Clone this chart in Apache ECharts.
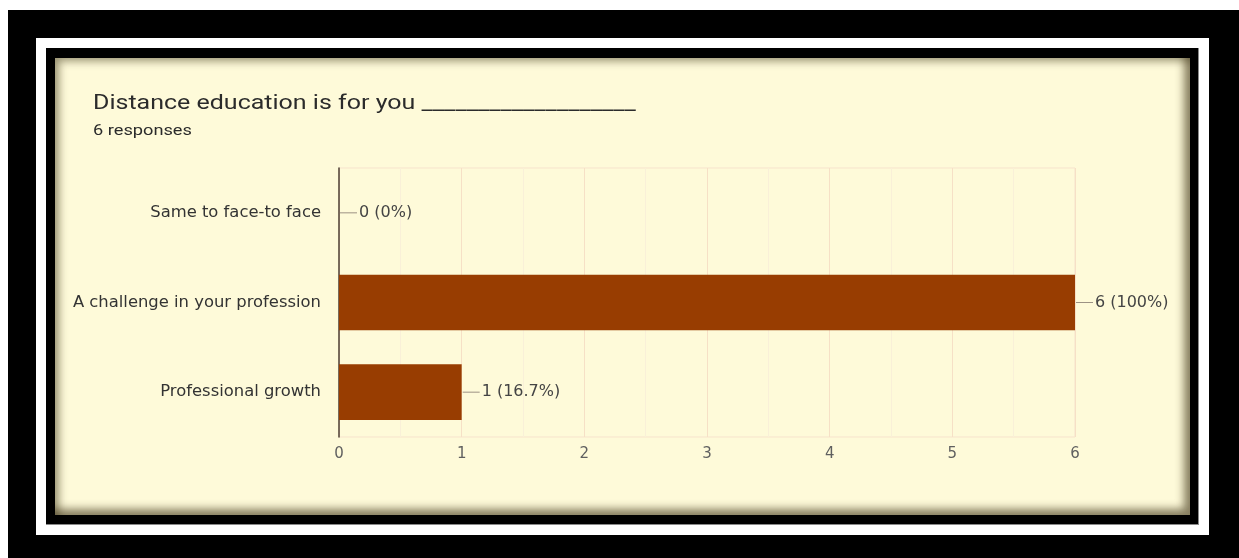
<!DOCTYPE html>
<html>
<head>
<meta charset="utf-8">
<script src="https://cdn.jsdelivr.net/npm/echarts@6/dist/echarts.min.js"></script>
<style>
  html, body { margin: 0; padding: 0; background: #ffffff; }
  body { width: 1239px; height: 558px; position: relative; overflow: hidden; }
  .frame { position: absolute; box-sizing: border-box; }
  #outer { left: 8px; top: 10px; width: 1231px; height: 548px; background: #000; }
  #band { left: 36px; top: 38px; width: 1173px; height: 497px; background: #fff; }
  #inner { left: 46px; top: 48px; width: 1153px; height: 477px; background: #000;
           border-right: 1px solid #8a8a8a; border-bottom: 1px solid #8a8a8a; }
  #paper { left: 55px; top: 58px; width: 1135px; height: 457px; background: #fefad9;
           box-shadow: inset -9px -9px 9px -3px rgba(70,60,30,0.65),
                       inset 7px 6px 8px -3px rgba(70,60,30,0.55); }
  #chart { position: absolute; left: 0; top: 0; width: 1239px; height: 558px; }
</style>
</head>
<body>
<div class="frame" id="outer"></div>
<div class="frame" id="band"></div>
<div class="frame" id="inner"></div>
<div class="frame" id="paper"></div>
<div id="chart"></div>
<script>
// Survey answers, listed top to bottom
const categories = ['Same to face-to face', 'A challenge in your profession', 'Professional growth'];
const counts = [0, 6, 1];
const percents = ['0%', '100%', '16.7%'];
const xTicks = [0, 1, 2, 3, 4, 5, 6];
const questionText = 'Distance education is for you ___________________';
const responsesText = '6 responses';

const chart = echarts.init(document.getElementById('chart'), null, { renderer: 'canvas' });

chart.setOption({
  backgroundColor: 'transparent',
  animation: false,
  // Question heading and response count, drawn in a wide face
  graphic: [
    {
      type: 'text', x: 93, y: 94, scaleX: 1.25, scaleY: 1,
      style: { text: questionText, x: 0, y: 0, verticalAlign: 'top',
               font: '20px Roboto', fill: '#2b2b2b' }
    },
    {
      type: 'text', x: 93, y: 124, scaleX: 1.3, scaleY: 1,
      style: { text: responsesText, x: 0, y: 0, verticalAlign: 'top',
               font: '14px Roboto', fill: '#2b2b2b' }
    }
  ],
  grid: {
    left: 339, right: 164, top: 168, bottom: 121,
    show: true, borderColor: '#f7e3cc', borderWidth: 1, backgroundColor: 'transparent'
  },
  xAxis: {
    type: 'value',
    min: xTicks[0],
    max: xTicks[xTicks.length - 1],
    interval: 1,
    axisLine: { show: false },
    axisTick: { show: false },
    axisLabel: { color: '#5f5f5f', fontFamily: 'DejaVu Sans', fontSize: 15, margin: 10 },
    splitLine: { show: true, lineStyle: { color: '#f6e0c6', width: 1 } },
    minorTick: { show: false, splitNumber: 2 },
    minorSplitLine: { show: true, lineStyle: { color: '#f9f0d8', width: 1 } }
  },
  yAxis: {
    type: 'category',
    data: categories,
    inverse: true,
    axisLine: { show: true, lineStyle: { color: '#4d3f35', width: 1.5 } },
    axisTick: { show: false },
    axisLabel: { color: '#333', fontFamily: 'DejaVu Sans', fontSize: 16.4, margin: 18 },
    splitLine: { show: false }
  },
  series: [{
    type: 'bar',
    data: counts,
    barWidth: '62%',
    itemStyle: { color: '#983d01' },
    label: {
      show: true,
      position: 'right',
      distance: 1,
      formatter: p => '{l|}{t|' + p.value + ' (' + percents[p.dataIndex] + ')}',
      rich: {
        l: { width: 17, height: 1, backgroundColor: '#9c9284' },
        t: { color: '#444', fontFamily: 'DejaVu Sans', fontSize: 16, padding: [0, 0, 0, 2] }
      }
    }
  }]
});
</script>
</body>
</html>
